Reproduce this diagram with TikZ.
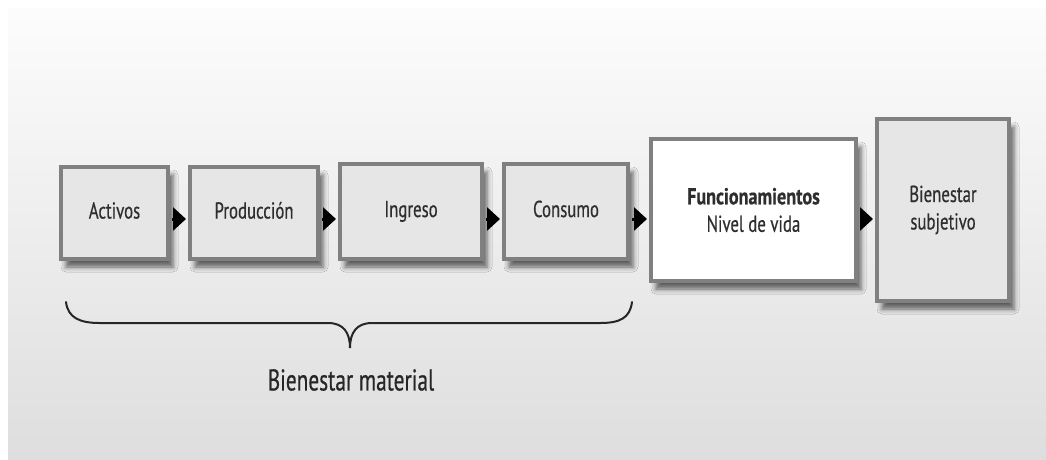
\documentclass[tikz,border=0pt]{standalone}
\usepackage{fontspec}
\setmainfont{PT Sans}[FakeStretch=0.73, FakeBold=0.5, BoldFeatures={FakeStretch=0.79}]
\newfontfamily\labelfont{PT Sans}[FakeStretch=0.71, FakeBold=0.5]
\usetikzlibrary{arrows.meta,shadows.blur}
\definecolor{boxline}{HTML}{808080}
\definecolor{boxfill}{HTML}{E6E6E6}
\definecolor{txt}{HTML}{2E2E2E}
\tikzset{
  stage/.style={draw=boxline, line width=4pt, fill=boxfill, inner sep=0pt,
    align=center, text=txt, font=\fontsize{23}{27.5}\selectfont,
    blur shadow={shadow xshift=5pt, shadow yshift=-8pt, shadow blur radius=5pt, shadow opacity=60}},
  oneline/.style={text height=16pt, text depth=5pt},
  flow/.style={line width=3pt, -{Triangle[length=13pt,width=23pt]}, shorten <=2pt, shorten >=2pt},
  bracestyle/.style={line width=2pt, draw=black!85, line cap=round}
}
\begin{document}
\begin{tikzpicture}[x=1pt,y=-1pt]
\useasboundingbox (0,0) rectangle (1046,459);
\fill[white] (0,0) rectangle (1046,459);
\shade[top color=white!99!black, bottom color=white!87!black] (8,8) rectangle (1046,459);

\node[stage, oneline, minimum width=107pt, minimum height=92pt] (act) at (114.5,213) {Activos};
\node[stage, oneline, minimum width=128pt, minimum height=92pt] (prod) at (254,213) {Producción};
\node[stage, oneline, minimum width=142pt, minimum height=95pt] (ing) at (411,211.5) {Ingreso};
\node[stage, oneline, minimum width=124pt, minimum height=95pt] (cons) at (566,211.5) {Consumo};
\node[stage, fill=white, minimum width=205pt, minimum height=142pt] (func) at (753.5,210) {\textbf{Funcionamientos}\\Nivel de vida};
\node[stage, minimum width=132pt, minimum height=182pt] (subj) at (943,210) {Bienestar\\subjetivo};

\coordinate (ay) at (0,219);
\draw[flow] (act.east |- ay) -- (prod.west |- ay);
\draw[flow] (prod.east |- ay) -- (ing.west |- ay);
\draw[flow] (ing.east |- ay) -- (cons.west |- ay);
\draw[flow] (cons.east |- ay) -- (func.west |- ay);
\draw[flow] (func.east |- ay) -- (subj.west |- ay);

\draw[bracestyle] (66,302) .. controls (68,318) and (80,323) .. (100,323) -- (328,323)
  .. controls (343,323) and (350,332) .. (350,348)
  .. controls (350,332) and (357,323) .. (372,323) -- (600,323)
  .. controls (620,323) and (630,318) .. (632,302);
\node[font=\labelfont\fontsize{30}{32}\selectfont, text=black!85] (bm) at (351,380) {Bienestar material};
\end{tikzpicture}
\end{document}
